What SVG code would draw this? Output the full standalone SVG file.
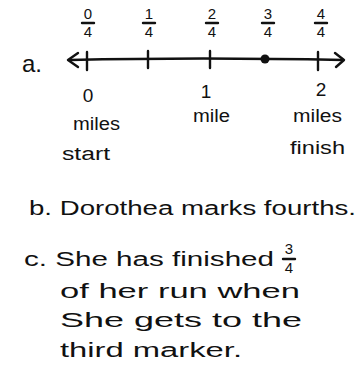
<svg xmlns="http://www.w3.org/2000/svg" width="361" height="369" viewBox="0 0 361 369">
<style>
text{font-family:"Liberation Sans","DejaVu Sans",sans-serif;fill:#111}
.f{font-size:15px;text-anchor:middle}
.l{font-size:20px}
.m{font-size:18px}
.n{font-size:19px;text-anchor:middle}
.s{stroke:#111;stroke-width:2.4;fill:none;stroke-linecap:round;stroke-linejoin:round}
</style>
<rect width="361" height="369" fill="#fff"/>
<g id="connectors">
<path class="s" d="M70,60 Q200,57 343,60"/>
<path class="s" d="M78,53 L68,60 L78,67"/>
<path class="s" d="M335,53 L344,60 L336,67"/>
</g>
<g id="tick0"><path class="s" d="M87,52 V70"/></g>
<g id="tick1"><path class="s" d="M148,51 V68"/></g>
<g id="tick2"><path class="s" d="M210,51 V68"/></g>
<g id="tick3"><circle cx="265" cy="59" r="4.5" fill="#111"/></g>
<g id="tick4"><path class="s" d="M318,52 V70"/></g>
<g id="frac0"><text class="f" x="88" y="19">0</text><path class="s" stroke-width="1.8" d="M82,23 H94"/><text class="f" x="88" y="37">4</text></g>
<g id="frac1"><text class="f" x="149" y="19">1</text><path class="s" stroke-width="1.8" d="M143,23 H155"/><text class="f" x="149" y="37">4</text></g>
<g id="frac2"><text class="f" x="212" y="19">2</text><path class="s" stroke-width="1.8" d="M206,23 H218"/><text class="f" x="212" y="37">4</text></g>
<g id="frac3"><text class="f" x="268" y="19">3</text><path class="s" stroke-width="1.8" d="M262,23 H274"/><text class="f" x="268" y="37">4</text></g>
<g id="frac4"><text class="f" x="321" y="19">4</text><path class="s" stroke-width="1.8" d="M315,23 H327"/><text class="f" x="321" y="37">4</text></g>
<g id="label-a"><text x="22" y="72" style="font-size:24px">a.</text></g>
<g id="label0"><text class="n" x="88" y="102">0</text><text class="m" x="73" y="130" textLength="47" lengthAdjust="spacingAndGlyphs">miles</text><text class="m" x="62" y="160" textLength="48" lengthAdjust="spacingAndGlyphs">start</text></g>
<g id="label1"><text class="n" x="206" y="98">1</text><text class="m" x="193" y="122" textLength="37" lengthAdjust="spacingAndGlyphs">mile</text></g>
<g id="label2"><text class="n" x="321" y="96">2</text><text class="m" x="293" y="122" textLength="49" lengthAdjust="spacingAndGlyphs">miles</text><text class="m" x="290" y="154" textLength="55" lengthAdjust="spacingAndGlyphs">finish</text></g>
<g id="text-b"><text class="l" x="29" y="215" textLength="327" lengthAdjust="spacingAndGlyphs">b. Dorothea marks fourths.</text></g>
<g id="text-c">
<text class="l" x="24" y="266" textLength="250" lengthAdjust="spacingAndGlyphs">c. She has finished</text>
<text class="f" x="289" y="254">3</text><path class="s" stroke-width="1.8" d="M283,259 H295"/><text class="f" x="289" y="273">4</text>
<text class="l" x="60" y="298" textLength="240" lengthAdjust="spacingAndGlyphs">of her run when</text>
<text class="l" x="60" y="327" textLength="242" lengthAdjust="spacingAndGlyphs">She gets to the</text>
<text class="l" x="60" y="357" textLength="182" lengthAdjust="spacingAndGlyphs">third marker.</text>
</g>
</svg>
